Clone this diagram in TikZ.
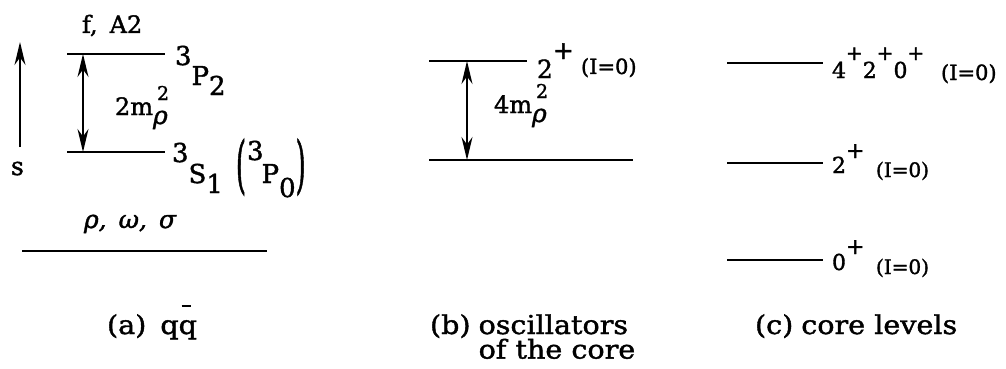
\documentclass[tikz,border=0pt]{standalone}
\usepackage{fontspec}
\setmainfont{DejaVu Serif}[FakeBold=1.5]
\newfontfamily\capfont[FakeStretch=1.1,FakeBold=1.5]{DejaVu Serif}
\usetikzlibrary{arrows.meta}
\newcommand{\fs}[1]{\fontsize{#1}{#1}\selectfont}
\begin{document}
\begin{tikzpicture}[x=1pt,y=-1pt,
  level/.style={line width=1.9pt},
  tipS/.tip={Stealth[length=23pt,width=11pt]},
  arr/.style={line width=1.5pt,-tipS},
  darr/.style={line width=1.5pt,tipS-tipS},
  txt/.style={inner sep=0pt,outer sep=0pt,anchor=base west},
  captext/.style={txt,font=\capfont\fs{26}},
  ]
\useasboundingbox (0,0) rectangle (1006,369);

% ---- panel (a)
\coordinate (sbot) at (20,147);
\coordinate (stop) at (20,42);
\draw[arr] (sbot) -- (stop);
\node[txt,font=\fs{25}] (s) at (11,175) {s};

\coordinate (p2l) at (67,54);  \coordinate (p2r) at (165,54);
\coordinate (s1l) at (67,152); \coordinate (s1r) at (165,152);
\draw[level] (p2l) -- (p2r);
\draw[level] (s1l) -- (s1r);
\coordinate (da1) at (83,54); \coordinate (da2) at (83,152);
\draw[darr] (da1) -- (da2);

\node[txt,font=\fs{24}] (fa) at (82,33) {f,\kern12pt A2};
\node[txt,font=\fs{26}] (p2) at (175,85) {\raisebox{20pt}{3}P\raisebox{-10pt}{2}};
\node[txt,font=\fs{26}] (s1) at (172,183)
  {\raisebox{21pt}{3}S\raisebox{-10pt}{1}\kern13pt\raisebox{-3pt}{\scalebox{1}[2.4]{(}}\kern1pt\raisebox{23pt}{3}\kern-2pt P\raisebox{-14pt}{0}\kern0pt\raisebox{-3pt}{\scalebox{1}[2.4]{)}}};
\node[txt,font=\fs{24}] (m2) at (115,115)
  {2m\rlap{\kern4pt\raisebox{15pt}{\fs{19}2}}\raisebox{-9pt}{\fs{25}\itshape ρ}};
\node[txt,font=\fs{25}\itshape] (rho) at (84,228) {ρ,\kern12pt ω,\kern12pt σ};

\coordinate (gl) at (22,251); \coordinate (gr) at (267,251);
\draw[level] (gl) -- (gr);

% ---- panel (b)
\coordinate (bul) at (429,61);  \coordinate (bur) at (527,61);
\coordinate (bll) at (429,160); \coordinate (blr) at (633,160);
\draw[level] (bul) -- (bur);
\draw[level] (bll) -- (blr);
\coordinate (db1) at (467,61); \coordinate (db2) at (467,160);
\draw[darr] (db1) -- (db2);
\node[txt,font=\fs{25}] (b2) at (537,78) {2\raisebox{19pt}{\fs{25}+}};
\node[txt,font=\fs{21}] (bi) at (581,74) {(I=0)};
\node[txt,font=\fs{24}] (m4) at (494,113)
  {4m\rlap{\kern4pt\raisebox{15pt}{\fs{19}2}}\raisebox{-9pt}{\fs{25}\itshape ρ}};

% ---- panel (c)
\coordinate (c1l) at (727,63);  \coordinate (c1r) at (823,63);
\coordinate (c2l) at (727,163); \coordinate (c2r) at (823,163);
\coordinate (c3l) at (727,260); \coordinate (c3r) at (823,260);
\draw[level] (c1l) -- (c1r);
\draw[level] (c2l) -- (c2r);
\draw[level] (c3l) -- (c3r);
\node[txt,font=\fs{22}] (c1) at (832,78)
  {4\raisebox{18pt}{\fs{20}+}2\raisebox{18pt}{\fs{20}+}0\raisebox{18pt}{\fs{20}+}};
\node[txt,font=\fs{21}] (c1i) at (941,80) {(I=0)};
\node[txt,font=\fs{22}] (c2) at (832,173) {2\raisebox{15pt}{\fs{22}+}};
\node[txt,font=\fs{20}] (c2i) at (876,177) {(I=0)};
\node[txt,font=\fs{22}] (c3) at (832,270) {0\raisebox{16pt}{\fs{22}+}};
\node[txt,font=\fs{20}] (c3i) at (876,274) {(I=0)};

% ---- captions
\node[captext] (capa) at (107,334) {(a)\kern14pt q\rlap{\kern3pt\rule[27pt]{9pt}{1.8pt}}q};
\node[captext] (capb) at (430,334) {(b)\kern8pt\begin{tabular}[t]{@{}l@{}}oscillators\\[-3pt] of the core\end{tabular}};
\node[captext] (capc) at (755,334) {(c)\kern8pt core levels};
\end{tikzpicture}
\end{document}
